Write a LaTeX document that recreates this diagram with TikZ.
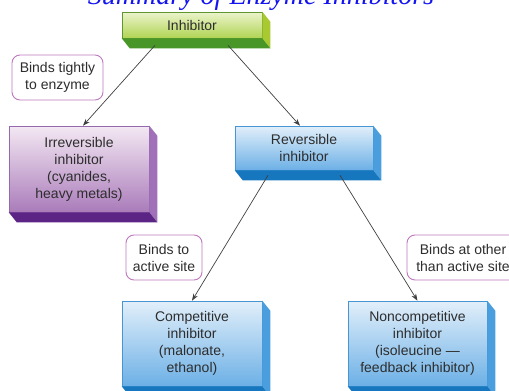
\documentclass[tikz,border=0pt]{standalone}
\usepackage{fontspec}
\setmainfont{Liberation Sans}
\newfontfamily\titlefont{Liberation Serif}
\usetikzlibrary{arrows.meta}
\definecolor{inktext}{RGB}{45,45,45}
\definecolor{grnlight}{RGB}{236,244,204}
\definecolor{grnmid}{RGB}{176,212,84}
\definecolor{grnside}{RGB}{168,202,48}
\definecolor{grndark}{RGB}{72,150,40}
\definecolor{grnline}{RGB}{96,150,50}
\definecolor{blulight}{RGB}{226,239,250}
\definecolor{blumid}{RGB}{108,176,230}
\definecolor{bluside}{RGB}{74,158,222}
\definecolor{bludark}{RGB}{22,118,190}
\definecolor{bluline}{RGB}{70,150,212}
\definecolor{purlight}{RGB}{243,232,243}
\definecolor{purmid}{RGB}{170,124,186}
\definecolor{purside}{RGB}{160,112,184}
\definecolor{purdark}{RGB}{92,36,132}
\definecolor{purline}{RGB}{150,104,174}
\definecolor{calloutline}{RGB}{190,120,190}
\definecolor{titleblue}{RGB}{20,20,240}
\tikzset{every node/.style={font=\fontsize{14}{17}\selectfont, text=inktext}}
\tikzset{
  slabfront/.style={draw=#1line, line width=0.6pt, top color=#1light, bottom color=#1mid,
    align=center, inner sep=0pt},
  callout/.style={draw=calloutline, line width=0.9pt, rounded corners=8pt, fill=white,
    align=center, inner sep=0pt},
  arr/.style={draw=black!75, line width=0.7pt, -{Stealth[length=7pt,width=5pt]}}
}
% side and bottom faces of a box node
\newcommand{\slabsides}[2]{%
  \fill[#2side] (#1.north east) -- ++(8,10) -- ([shift={(8,10)}]#1.south east) -- (#1.south east) -- cycle;
  \fill[#2dark] (#1.south west) -- (#1.south east) -- ++(8,10) -- ([shift={(8,10)}]#1.south west) -- cycle;
}

\begin{document}
\begin{tikzpicture}[x=1pt, y=-1pt]
  \useasboundingbox (0,0) rectangle (509,391);
  \clip (0,0) rectangle (509,391);

  \node[anchor=base, font=\titlefont\itshape\fontsize{28}{30}\selectfont, text=titleblue] (title) at (261,4)
    {Summary of Enzyme Inhibitors};

  \node[slabfront=grn, minimum width=140, minimum height=26] (inh) at (192,25) {Inhibitor};
  \node[slabfront=pur, minimum width=140, minimum height=86] (irr) at (79,169)
    {Irreversible\\inhibitor\\(cyanides,\\heavy metals)};
  \node[slabfront=blu, minimum width=138, minimum height=44] (rev) at (304,148)
    {Reversible\\inhibitor};
  \node[slabfront=blu, minimum width=140, minimum height=85] (comp) at (192,343.5)
    {Competitive\\inhibitor\\(malonate,\\ethanol)};
  \node[slabfront=blu, minimum width=139, minimum height=85] (nonc) at (417.5,343.5)
    {Noncompetitive\\inhibitor\\(isoleucine ---\\feedback inhibitor)};
  \slabsides{inh}{grn}
  \slabsides{irr}{pur}
  \slabsides{rev}{blu}
  \slabsides{comp}{blu}
  \slabsides{nonc}{blu}

  \node[callout, minimum width=91, minimum height=45] (tight) at (57.5,77.5) {Binds tightly\\to enzyme};
  \node[callout, minimum width=76, minimum height=45] (active) at (164,257.5) {Binds to\\active site};
  \node[callout, minimum width=112, minimum height=45] (other) at (463,257.5) {Binds at other\\than active site};

  \draw[arr] ([xshift=-37pt,yshift=-7pt]inh.south) -- ([xshift=4pt]irr.north);
  \draw[arr] ([xshift=36pt,yshift=-7pt]inh.south) -- ([xshift=-4pt]rev.north);
  \draw[arr] ([xshift=-36pt,yshift=-5pt]rev.south) -- (comp.north);
  \draw[arr] ([xshift=36pt,yshift=-5pt]rev.south) -- (nonc.north);
\end{tikzpicture}
\end{document}
